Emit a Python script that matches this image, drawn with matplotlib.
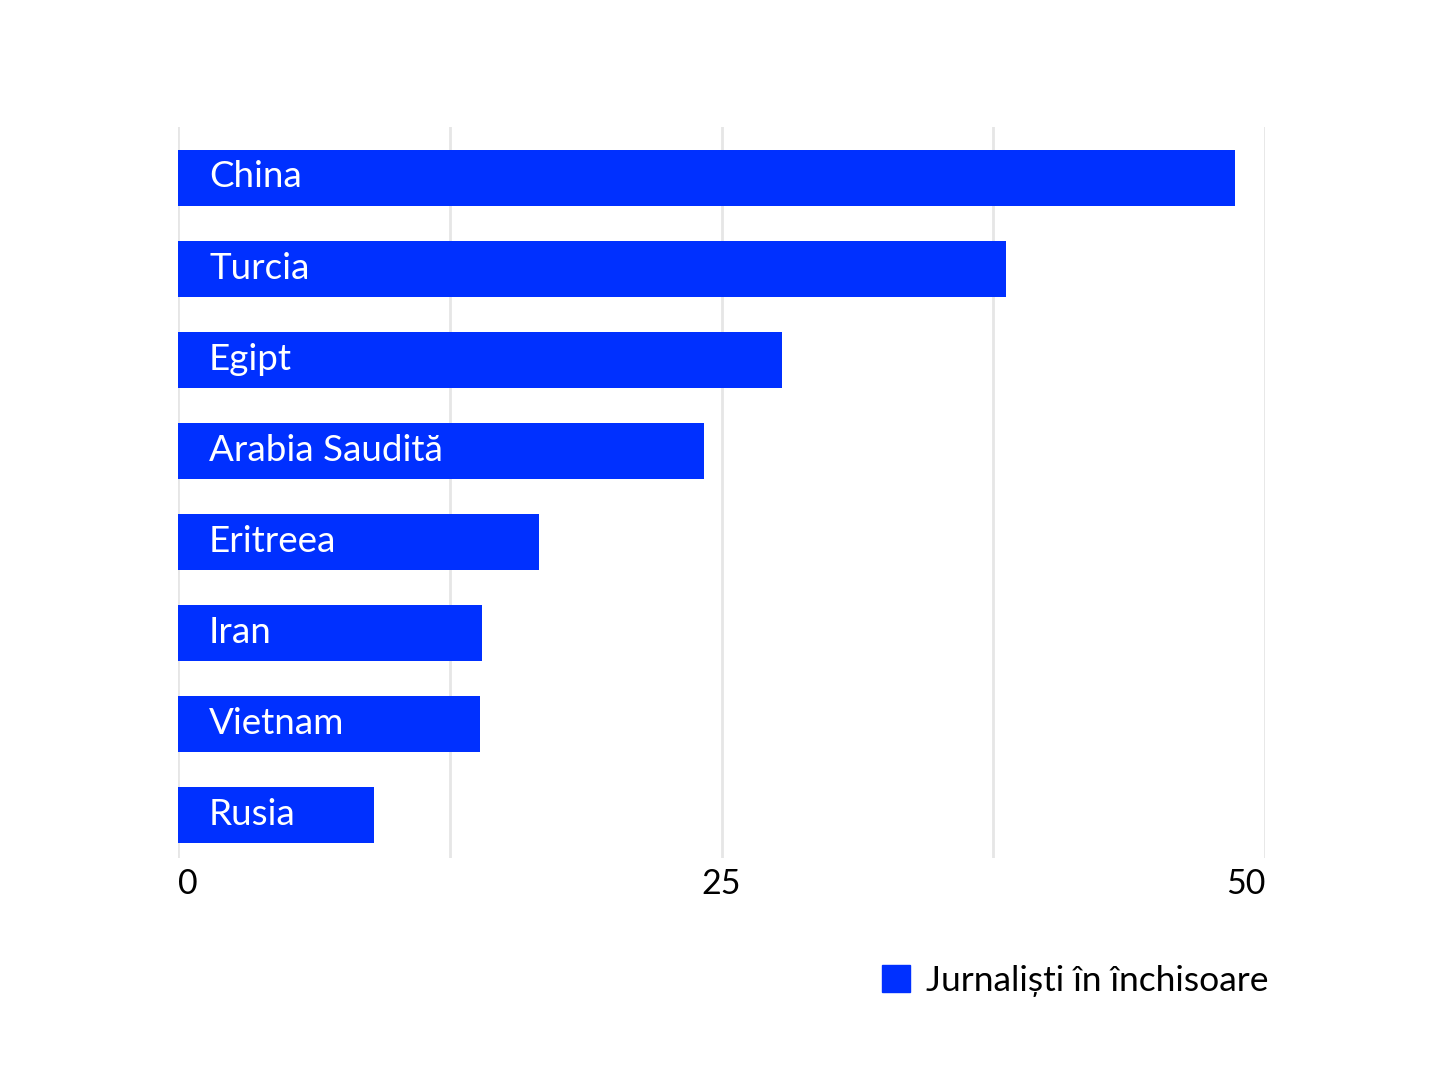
import matplotlib
matplotlib.use("Agg")
import matplotlib.pyplot as plt
from matplotlib.patches import Patch

plt.rcParams['font.family'] = ['Lato', 'DejaVu Sans']

# data
countries = ["China", "Turcia", "Egipt", "Arabia Saudită", "Eritreea", "Iran", "Vietnam", "Rusia"]
journalists = [48.6, 38.1, 27.8, 24.2, 16.6, 14.0, 13.9, 9.0]
series_name = "Jurnaliști în închisoare"
tick_values = [0, 25, 50]
grid_values = [0, 12.5, 25, 37.5, 50]

blue = "#0030ff"

fig = plt.figure(figsize=(14.44, 10.69), dpi=100)
ax = fig.add_axes([178 / 1444, 1 - 858 / 1069, (1265 - 178) / 1444, (858 - 127) / 1069])

pos = list(range(len(countries)))
ax.barh(pos, journalists, height=0.615, color=blue, zorder=2)

for i, name in enumerate(countries):
    ax.annotate(name, xy=(0, i), xytext=(31, 1), textcoords='offset pixels',
                color='white', fontsize=26.5, va='center', ha='left', zorder=3)

for g in grid_values:
    ax.axvline(g, color='#e6e6e6', lw=2, zorder=1)

ax.set_xlim(0, 50)
ax.set_ylim(len(countries) - 1 + 0.47, -0.56)
ax.set_yticks([])
ax.set_xticks(tick_values)
ax.set_xticklabels([str(v) for v in tick_values], fontsize=24.5)
ax.tick_params(axis='x', length=0, pad=7)
labels = ax.get_xticklabels()
labels[0].set_ha('left')
labels[-1].set_ha('right')
for s in ax.spines.values():
    s.set_visible(False)

fig.legend(handles=[Patch(color=blue, label=series_name)], loc='center right',
           bbox_to_anchor=(1268 / 1444, 1 - 981 / 1069), frameon=False, fontsize=25.5,
           handlelength=0.78, handleheight=0.78, handletextpad=0.45, borderpad=0,
           borderaxespad=0)

fig.savefig("out.png", dpi=100)
